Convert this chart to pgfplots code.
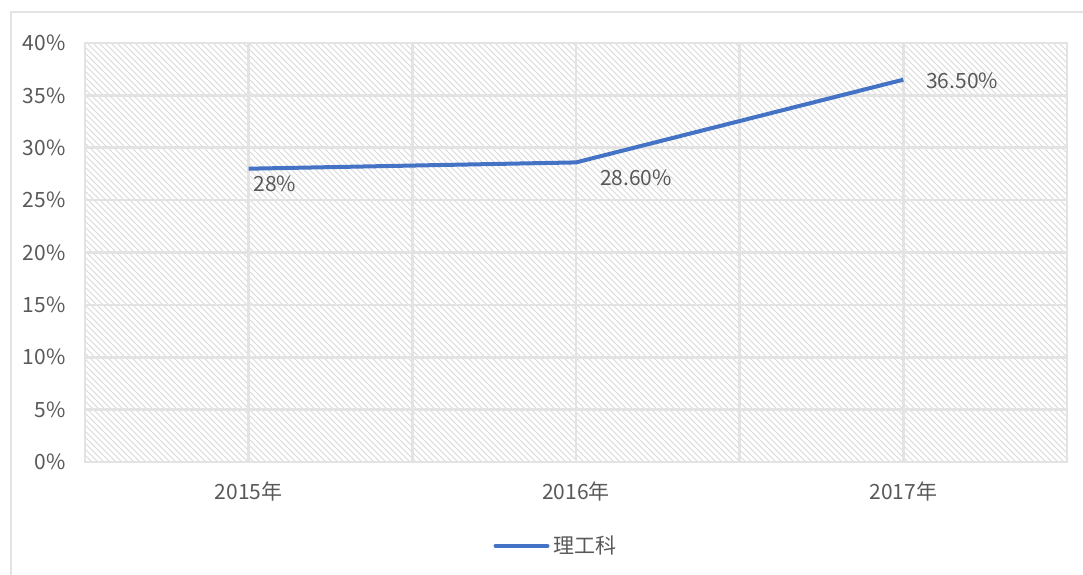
\documentclass[border=0pt]{standalone}
\usepackage{fontspec}
\setmainfont{Noto Sans CJK SC}
\usepackage{pgfplots}
\usepackage{pgfplotstable}
\pgfplotsset{compat=1.18}
\usetikzlibrary{patterns}
\definecolor{txt}{HTML}{595959}
\definecolor{lineblue}{HTML}{4472C4}
\definecolor{gridc}{HTML}{E3E3E3}
\pgfplotstableread{
x y lab dx dy
0 28 28 1.5 -7.5
1 28.6 28.60 11 -7.5
2 36.5 36.50 10.5 -0.5
}\datatable
\begin{document}
\begin{tikzpicture}
\fontsize{10.5}{12}\selectfont
\path[use as bounding box] (-42.5pt,-56pt) rectangle (499pt,231pt);
\draw[gridc, line width=1pt] (-37pt,-60pt) -- (-37pt,225pt) -- (505pt,225pt);
\begin{axis}[
  scale only axis,
  width=491pt, height=209.5pt,
  xmin=-0.5, xmax=2.5, ymin=0, ymax=40,
  xtick={0,1,2},
  xticklabels={2015年,2016年,2017年},
  minor xtick={-0.5,0.5,1.5,2.5},
  ytick={0,5,...,40},
  yticklabel={\pgfmathprintnumber[assume math mode=true]{\tick}\%},
  major tick length=0pt, minor tick length=0pt,
  xmajorgrids, xminorgrids, ymajorgrids,
  major grid style={gridc, line width=1.3pt},
  minor grid style={gridc, line width=1.3pt},
  axis line style={gridc, line width=1pt},
  axis background/.style={pattern=north west lines, pattern color=gray!30},
  tick label style={text=txt, font=\fontsize{10.5}{12}\selectfont},
  xticklabel style={yshift=-6pt},
  yticklabel style={xshift=-6pt},
  legend style={at={(0.4807,-0.2005)}, anchor=center, draw=none, fill=none,
    font=\fontsize{10.5}{12}\selectfont, text=txt, legend columns=1},
  legend image code/.code={\draw[line width=2pt, line cap=round] (0pt,0pt) -- (26pt,0pt);},
]
\addplot[lineblue, line width=2pt, mark=none,
  nodes near coords={\pgfplotspointmeta\%},
  point meta=explicit symbolic,
  visualization depends on={\thisrow{dx} \as \dx},
  visualization depends on={\thisrow{dy} \as \dy},
  nodes near coords style={anchor=west, inner sep=0pt, text=txt,
    font=\fontsize{10.5}{12}\selectfont, xshift=\dx pt, yshift=\dy pt},
] table[x=x, y=y, meta=lab] {\datatable};
\addlegendentry{理工科}
\end{axis}
\end{tikzpicture}
\end{document}
